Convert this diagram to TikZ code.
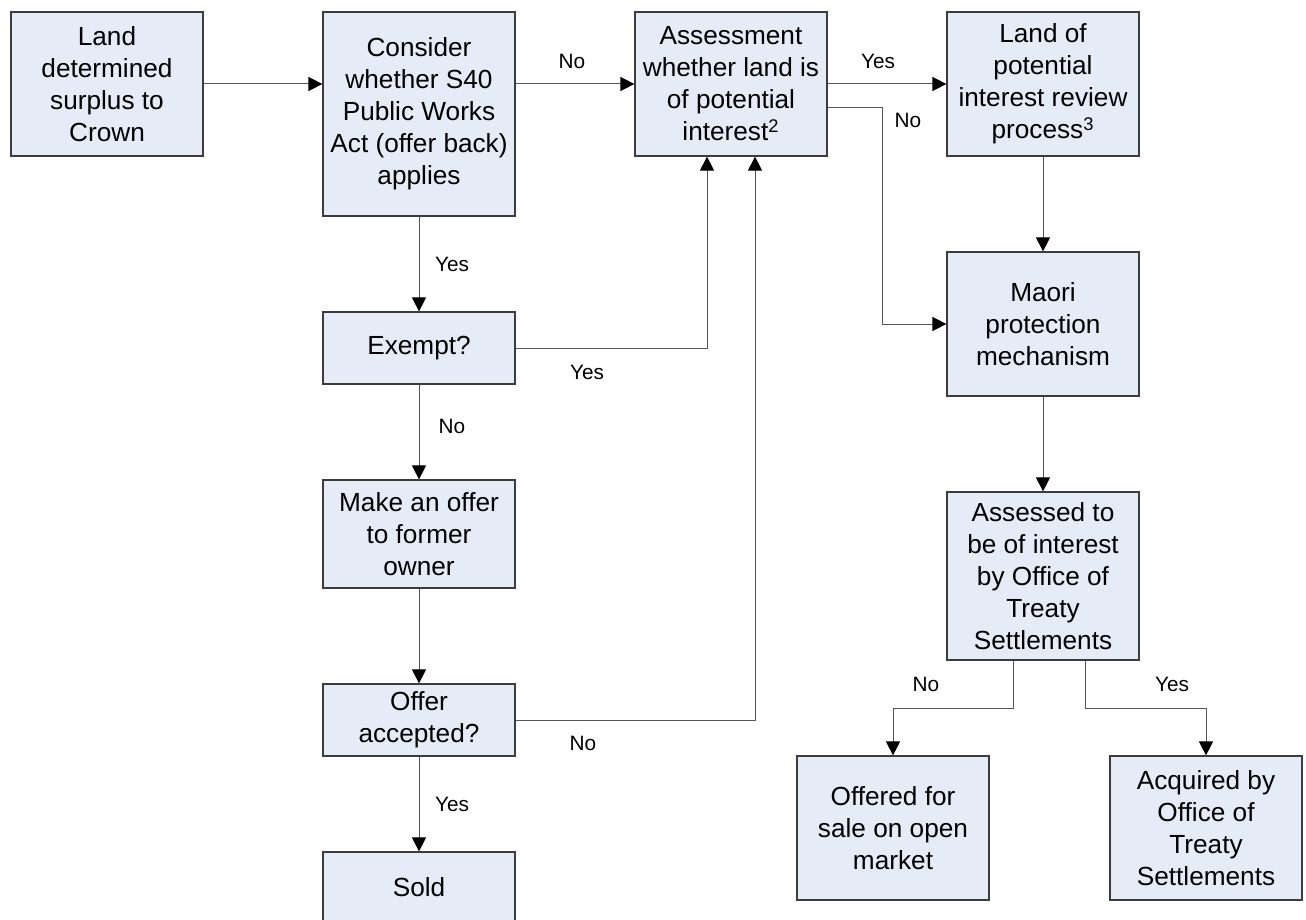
\documentclass[tikz,border=0pt]{standalone}
\usepackage{fontspec}
\setmainfont{Liberation Sans}
\usepackage{tikz}
\usetikzlibrary{calc,arrows.meta,positioning}
\definecolor{boxfill}{RGB}{230,236,247}
\definecolor{boxline}{RGB}{60,60,60}
\definecolor{wire}{RGB}{85,85,85}
\tikzstyle{stage}=[rectangle,draw=boxline,line width=0.6pt,fill=boxfill,minimum width=96pt,inner sep=1pt,align=center,font=\fontsize{13.1}{16}\selectfont]
\tikzstyle{flow}=[draw=wire,line width=0.5pt,-{Triangle[length=7pt,width=7pt,color=black]}]
\tikzstyle{answer}=[inner sep=0pt,font=\fontsize{10.4}{12}\selectfont]

\begin{document}
\begin{tikzpicture}[x=0.5pt,y=-0.5pt]
		\useasboundingbox (0,0) rectangle (1306,920);

		% left column
		\node(land)[stage,minimum height=72pt] at (107,84) {Land\\determined\\surplus to\\Crown};
		\node(consider)[stage,minimum height=102pt] at (419,114) {Consider\\whether S40\\Public Works\\Act (offer back)\\applies};
		\node(exempt)[stage,minimum height=36pt] at (419,348) {Exempt?};
		\node(offer)[stage,minimum height=54pt] at (419,534) {Make an offer\\to former\\owner};
		\node(accepted)[stage,minimum height=36pt] at (419,720) {Offer\\accepted?};
		\node(sold)[stage,minimum height=35pt] at (419,887) {Sold};

		% right part
		\node(assess)[stage,minimum height=72pt] at (731,84) {Assessment\\whether land is\\of potential\\interest\textsuperscript{2}};
		\node(review)[stage,minimum height=72pt] at (1043,84) {Land of\\potential\\interest review\\process\textsuperscript{3}};
		\node(maori)[stage,minimum height=72pt] at (1043,324) {Maori\\protection\\mechanism};
		\node(assessed)[stage,minimum height=84pt] at (1043,576) {Assessed to\\be of interest\\by Office of\\Treaty\\Settlements};
		\node(market)[stage,minimum height=72pt] at (893,828) {Offered for\\sale on open\\market};
		\node(acquired)[stage,minimum height=72pt] at (1206,828) {Acquired by\\Office of\\Treaty\\Settlements};

		% connectors
		\draw[flow] (land.east) -- (land.east -| consider.west);
		\draw[flow] (consider.east |- assess.west) -- (assess.west);
		\draw[flow] (assess.east) -- (review.west);
		\draw[flow] ($(assess.east)+(0,24)$) -- ++(55,0) |- (maori.west);
		\draw[flow] (review) -- (maori);
		\draw[flow] (maori) -- (assessed);
		\draw[flow] (consider) -- (exempt);
		\draw[flow] (exempt.east) -| ($(assess.south)+(-24,0)$);
		\draw[flow] (exempt) -- (offer);
		\draw[flow] (offer) -- (accepted);
		\draw[flow] (accepted.east) -| ($(assess.south)+(24,0)$);
		\draw[flow] (accepted) -- (sold);
		\draw[flow] ($(assessed.south)+(-30,0)$) -- ++(0,48) -| (market.north);
		\draw[flow] ($(assessed.south)+(42,0)$) -- ++(0,48) -| (acquired.north);

		% answers
		\node(n1)[answer] at (572,61) {No};
		\node(y1)[answer] at (878,61) {Yes};
		\node(n2)[answer] at (908,120) {No};
		\node(y2)[answer] at (452,264) {Yes};
		\node(y3)[answer] at (587,372) {Yes};
		\node(n3)[answer] at (452,426) {No};
		\node(n4)[answer] at (583,743) {No};
		\node(y4)[answer] at (452,804) {Yes};
		\node(n5)[answer] at (926,684) {No};
		\node(y5)[answer] at (1172,684) {Yes};

\end{tikzpicture}
\end{document}
